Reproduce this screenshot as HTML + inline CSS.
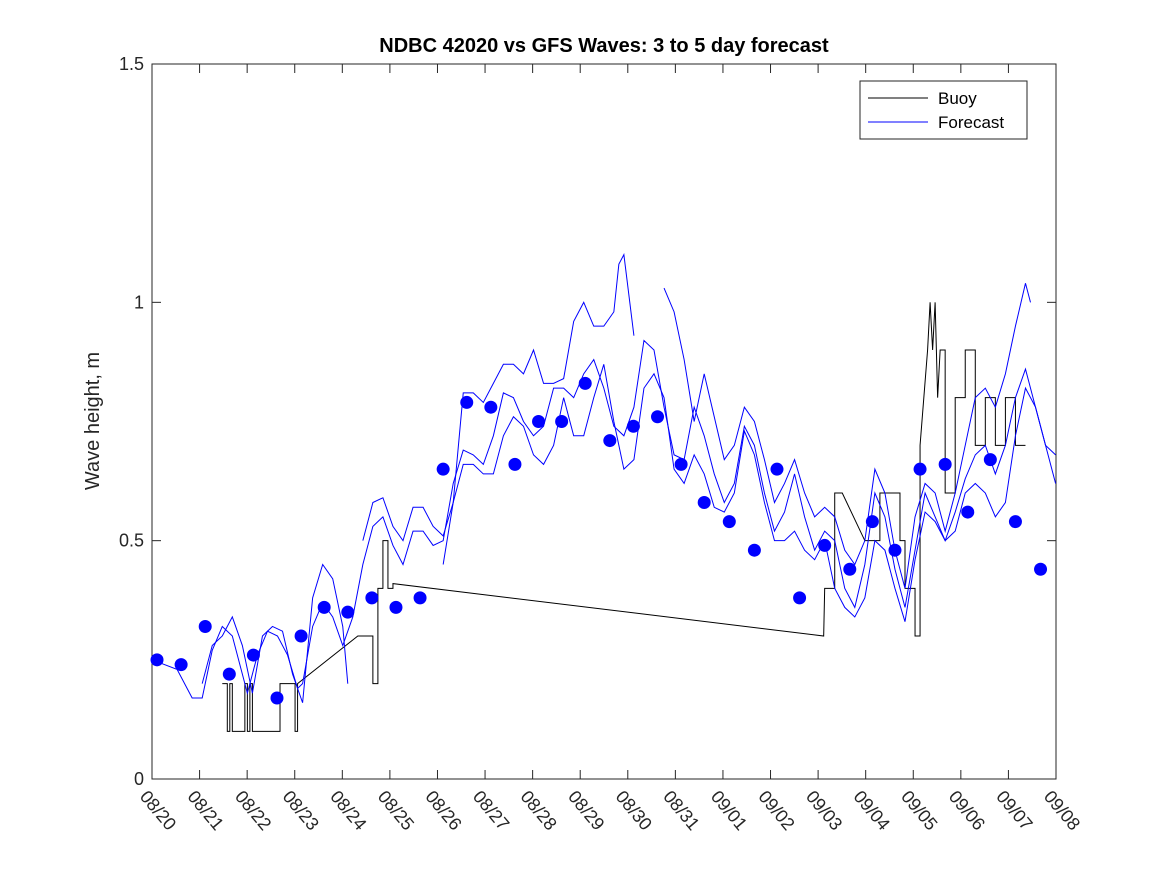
<!DOCTYPE html>
<html><head><meta charset="utf-8"><style>
body{margin:0;background:#fff;}
svg text{font-family:"Liberation Sans",sans-serif;}
</style></head><body>
<svg id="chart" width="1167" height="875" viewBox="0 0 1167 875">
<rect width="1167" height="875" fill="#fff"/>
<g id="plot"></g>
</svg>
<script>
const xTickLabels=["08/20","08/21","08/22","08/23","08/24","08/25","08/26","08/27","08/28","08/29","08/30","08/31","09/01","09/02","09/03","09/04","09/05","09/06","09/07","09/08"];
const yTicks=[0,0.5,1,1.5];
const yTickLabels=["0","0.5","1","1.5"];
const dotDays=[0.1,0.58,1.06,1.54,2.02,2.49,2.97,3.43,3.9,4.38,4.86,5.34,5.8,6.27,6.75,7.23,7.7,8.16,8.63,9.12,9.59,10.07,10.54,11.0,11.5,12.0,12.45,12.9,13.4,13.9,14.35,14.8,15.3,15.8,16.25,16.7,17.2,17.7];
const dotValues=[0.25,0.24,0.32,0.22,0.26,0.17,0.30,0.36,0.35,0.38,0.36,0.38,0.65,0.79,0.78,0.66,0.75,0.75,0.83,0.71,0.74,0.76,0.66,0.58,0.54,0.48,0.65,0.38,0.49,0.44,0.54,0.48,0.65,0.66,0.56,0.67,0.54,0.44];
const buoyDays=[1.4,1.5,1.5,1.55,1.55,1.6,1.6,1.65,1.65,1.85,1.85,1.9,1.9,1.95,1.95,2.0,2.0,2.55,2.55,2.85,2.85,2.9,2.9,4.1,4.4,4.4,4.5,4.5,4.6,4.6,4.7,4.7,4.8,4.8,13.38,13.4,13.6,13.6,13.75,14.2,14.5,14.5,14.9,14.9,15.0,15.0,15.2,15.2,15.3,15.3,15.45,15.5,15.55,15.6,15.65,15.7,15.8,15.8,16.0,16.0,16.2,16.2,16.4,16.4,16.6,16.6,16.8,16.8,17.0,17.0,17.2,17.2,17.4];
const buoyValues=[0.2,0.2,0.1,0.1,0.2,0.2,0.1,0.1,0.1,0.1,0.2,0.2,0.1,0.1,0.2,0.2,0.1,0.1,0.2,0.2,0.1,0.1,0.2,0.3,0.3,0.2,0.2,0.4,0.4,0.5,0.5,0.4,0.4,0.41,0.3,0.4,0.4,0.6,0.6,0.5,0.5,0.6,0.6,0.5,0.5,0.4,0.4,0.3,0.3,0.7,0.9,1.0,0.9,1.0,0.8,0.9,0.9,0.6,0.6,0.8,0.8,0.9,0.9,0.7,0.7,0.8,0.8,0.7,0.7,0.8,0.8,0.7,0.7];
const f1Days=[0,0.5,0.8,1,1.2,1.4,1.6,1.8,1.9,2.1,2.3,2.5,2.7,2.9,3,3.2,3.4,3.6,3.8,4,4.2,4.4,4.6,4.8,5,5.2,5.4,5.6,5.8,6,6.2,6.4,6.6,6.8,7,7.2,7.4,7.6,7.8,8,8.2,8.4,8.6,8.8,9,9.2,9.4,9.6,9.8,10,10.2,10.4,10.6,10.8,11,11.2,11.4,11.6,11.8,12,12.2,12.4,12.6,12.8,13,13.2,13.4,13.6,13.8,14,14.2,14.4,14.6,14.8,15,15.2,15.4,15.6,15.8,16,16.2,16.4,16.6,16.8,17,17.2,17.4,17.6,17.8,18];
const f1Values=[0.25,0.23,0.17,0.17,0.27,0.32,0.3,0.22,0.18,0.26,0.31,0.3,0.26,0.19,0.2,0.32,0.37,0.34,0.28,0.34,0.45,0.53,0.55,0.49,0.45,0.52,0.52,0.49,0.5,0.62,0.69,0.68,0.66,0.72,0.81,0.8,0.75,0.72,0.74,0.82,0.82,0.8,0.85,0.88,0.82,0.74,0.72,0.78,0.92,0.9,0.78,0.68,0.67,0.78,0.72,0.64,0.58,0.62,0.74,0.7,0.6,0.52,0.56,0.64,0.55,0.48,0.52,0.5,0.4,0.36,0.45,0.6,0.55,0.44,0.36,0.48,0.6,0.55,0.5,0.56,0.63,0.68,0.7,0.64,0.7,0.8,0.86,0.78,0.7,0.68];
const f2Days=[4.2,4.4,4.6,4.8,5,5.2,5.4,5.6,5.8,6,6.2,6.4,6.6,6.8,7,7.2,7.4,7.6,7.8,8,8.2,8.4,8.6,8.8,9,9.2,9.3,9.4,9.6];
const f2Values=[0.5,0.58,0.59,0.53,0.5,0.57,0.57,0.53,0.51,0.58,0.81,0.81,0.79,0.83,0.87,0.87,0.85,0.9,0.83,0.83,0.84,0.96,1.0,0.95,0.95,0.98,1.08,1.1,0.93];
const f3Days=[10.2,10.4,10.6,10.8,11,11.2,11.4,11.6,11.8,12,12.2,12.4,12.6,12.8,13,13.2,13.4,13.6,13.8,14,14.2,14.4,14.6,14.8,15,15.2,15.4,15.6,15.8,16,16.2,16.4,16.6,16.8,17,17.2,17.4,17.5];
const f3Values=[1.03,0.98,0.88,0.75,0.85,0.76,0.67,0.7,0.78,0.75,0.67,0.58,0.62,0.67,0.6,0.55,0.57,0.55,0.48,0.45,0.5,0.65,0.6,0.48,0.4,0.55,0.62,0.6,0.52,0.6,0.7,0.8,0.82,0.78,0.85,0.95,1.04,1.0];
const f4Days=[5.8,6,6.2,6.4,6.6,6.8,7,7.2,7.4,7.6,7.8,8,8.2,8.4,8.6,8.8,9,9.2,9.4,9.6,9.8,10,10.2,10.4,10.6,10.8,11,11.2,11.4,11.6,11.8,12,12.2,12.4,12.6,12.8,13,13.2,13.4,13.6,13.8,14,14.2,14.4,14.6,14.8,15,15.2,15.4,15.6,15.8,16,16.2,16.4,16.6,16.8,17,17.2,17.4,17.6,17.8,18];
const f4Values=[0.45,0.58,0.66,0.66,0.64,0.64,0.72,0.76,0.74,0.68,0.66,0.7,0.8,0.72,0.72,0.8,0.87,0.75,0.65,0.67,0.82,0.85,0.8,0.65,0.62,0.68,0.64,0.57,0.56,0.6,0.73,0.68,0.58,0.5,0.5,0.52,0.48,0.46,0.5,0.4,0.36,0.34,0.38,0.5,0.48,0.4,0.33,0.46,0.56,0.54,0.5,0.52,0.6,0.62,0.6,0.55,0.58,0.72,0.82,0.78,0.7,0.62];
const f5Days=[1.0,1.2,1.4,1.6,1.8,2.0,2.2,2.4,2.6,2.8,3.0,3.2,3.4,3.6,3.8,3.9];
const f5Values=[0.2,0.28,0.3,0.34,0.28,0.18,0.3,0.32,0.31,0.22,0.16,0.38,0.45,0.42,0.32,0.2];

const L=152,R=1056,T=64,B=779;
// data unit: 50.2 px; one calendar day = 47.58 px
const X=d=>L+d*50.2;
const tickX=i=>L+(R-L)*i/19;
const Y=v=>B-(B-T)*v/1.5;
const NS="http://www.w3.org/2000/svg";
const g=document.getElementById('plot');
function mk(tag,attrs,parent){const e=document.createElementNS(NS,tag);for(const k in attrs)e.setAttribute(k,attrs[k]);(parent||g).appendChild(e);return e;}
let box=mk('rect',{x:L,y:T,width:R-L,height:B-T,fill:'#fff',stroke:'#262626','stroke-width':1});


xTickLabels.forEach((lab,i)=>{
  const x=tickX(i);
  mk('line',{x1:x,y1:B,x2:x,y2:B-9,stroke:'#262626'});
  mk('line',{x1:x,y1:T,x2:x,y2:T+9,stroke:'#262626'});
  const t=mk('text',{x:x-13,y:B+18,'font-size':18,fill:'#262626',transform:`rotate(50 ${x-13} ${B+18})`});
  t.textContent=lab;
  
  
});
yTicks.forEach((v,i)=>{
  const y=Y(v);
  mk('line',{x1:L,y1:y,x2:L+9,y2:y,stroke:'#262626'});
  mk('line',{x1:R,y1:y,x2:R-9,y2:y,stroke:'#262626'});
  const t=mk('text',{x:L-8,y:y+6,'font-size':18,fill:'#262626','text-anchor':'end'});
  t.textContent=yTickLabels[i];
  
  
});
function line(days,vals,color,name){
  const p=mk('polyline',{points:days.map((d,i)=>X(d)+','+Y(vals[i])).join(' '),fill:'none',stroke:color,'stroke-width':1});
  
  
}
line(buoyDays,buoyValues,'#000','buoy-line');
line(f1Days,f1Values,'#0000ff','forecast-line-1');
line(f2Days,f2Values,'#0000ff','forecast-line-2');
line(f3Days,f3Values,'#0000ff','forecast-line-3');
line(f4Days,f4Values,'#0000ff','forecast-line-4');
line(f5Days,f5Values,'#0000ff','forecast-line-5');
dotDays.forEach((d,i)=>{
  const c=mk('circle',{cx:X(d),cy:Y(dotValues[i]),r:6.5,fill:'#0000ff'});
  
  
});
let tt=mk('text',{x:604,y:52,'font-size':20,'font-weight':'bold','text-anchor':'middle',fill:'#000'});
tt.textContent='NDBC 42020 vs GFS Waves: 3 to 5 day forecast';


let yl=mk('text',{x:99,y:421,'font-size':20,'text-anchor':'middle',fill:'#262626',transform:'rotate(-90 99 421)'});
yl.textContent='Wave height, m';


const lg=mk('g',{});


mk('rect',{x:860,y:81,width:167,height:58,fill:'#fff',stroke:'#262626'},lg);
mk('line',{x1:868,y1:98,x2:928,y2:98,stroke:'#000'},lg);
mk('line',{x1:868,y1:122,x2:928,y2:122,stroke:'#0000ff'},lg);
let l1=mk('text',{x:938,y:104,'font-size':17,fill:'#000'},lg);l1.textContent='Buoy';


let l2=mk('text',{x:938,y:128,'font-size':17,fill:'#000'},lg);l2.textContent='Forecast';


</script>
</body></html>
